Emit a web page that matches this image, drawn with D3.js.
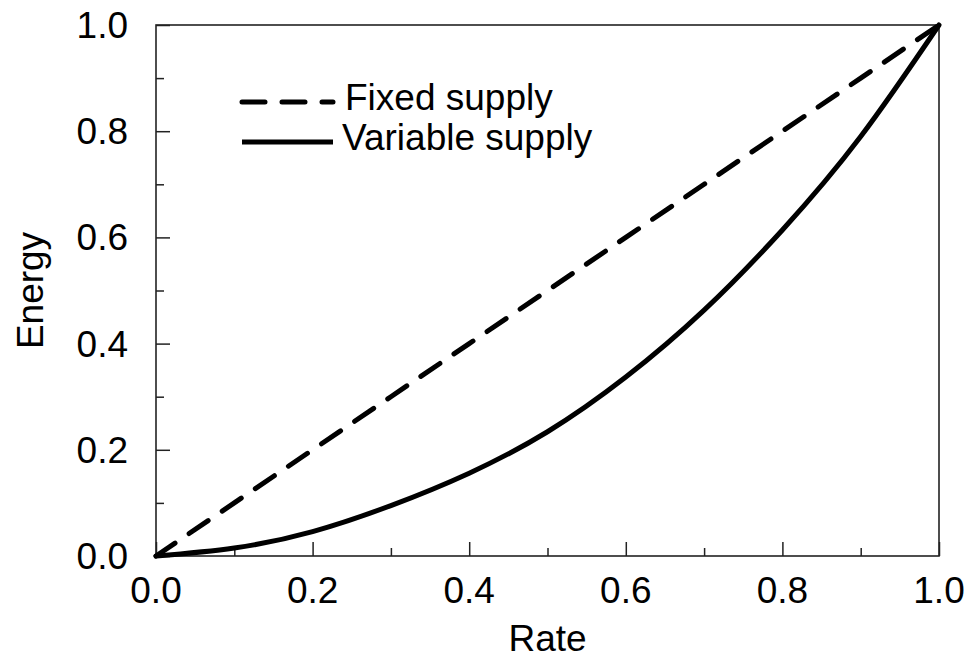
<!DOCTYPE html>
<html>
<head>
<meta charset="utf-8">
<script src="https://cdn.jsdelivr.net/npm/d3@7"></script>
<style>
  html, body { margin: 0; padding: 0; background: #fff; }
  svg { display: block; }
  text { font-family: "Liberation Sans", Arial, Helvetica, sans-serif; fill: #000; }
</style>
</head>
<body>
<svg id="chart" width="969" height="659"></svg>
<script>
// Rate values along the horizontal axis
const rate = [0, 0.1, 0.2, 0.3, 0.4, 0.5, 0.6, 0.7, 0.8, 0.9, 1.0];
// Energy for a fixed supply (straight line)
const fixedSupply = [0, 0.1, 0.2, 0.3, 0.4, 0.5, 0.6, 0.7, 0.8, 0.9, 1.0];
// Energy for a variable supply (convex curve)
const variableSupply = [0, 0.015, 0.046, 0.095, 0.156, 0.234, 0.337, 0.463, 0.614, 0.79, 1.0];

const majorTicks = [0, 0.2, 0.4, 0.6, 0.8, 1.0];
const minorTicks = [0.1, 0.3, 0.5, 0.7, 0.9];
const legendLabels = ["Fixed supply", "Variable supply"];

const svg = d3.select("#chart");
const m = { left: 156, right: 939, top: 25, bottom: 556 };

const x = d3.scaleLinear().domain([0, 1]).range([m.left, m.right]);
const y = d3.scaleLinear().domain([0, 1]).range([m.bottom, m.top]);

const fmt = d3.format(".1f");
const fontSize = 37;

// Inward major and minor ticks on the bottom and left axes
const xMajor = d3.axisBottom(x).tickValues(majorTicks).tickSize(-14).tickFormat("");
const xMinor = d3.axisBottom(x).tickValues(minorTicks).tickSize(-8).tickFormat("");
const yMajor = d3.axisLeft(y).tickValues(majorTicks).tickSize(-14).tickFormat("");
const yMinor = d3.axisLeft(y).tickValues(minorTicks).tickSize(-8).tickFormat("");

function styleAxis(g) {
  g.select(".domain").remove();
  g.selectAll(".tick line").attr("stroke", "#222").attr("stroke-width", 1.5);
}

svg.append("g").attr("transform", `translate(0,${m.bottom})`).call(xMajor).call(styleAxis);
svg.append("g").attr("transform", `translate(0,${m.bottom})`).call(xMinor).call(styleAxis);
svg.append("g").attr("transform", `translate(${m.left},0)`).call(yMajor).call(styleAxis);
svg.append("g").attr("transform", `translate(${m.left},0)`).call(yMinor).call(styleAxis);

// Frame
svg.append("rect")
  .attr("x", m.left).attr("y", m.top)
  .attr("width", m.right - m.left).attr("height", m.bottom - m.top)
  .attr("fill", "none").attr("stroke", "#222").attr("stroke-width", 1.6);

// Tick labels
svg.append("g").selectAll("text").data(majorTicks).join("text")
  .attr("x", d => x(d)).attr("y", m.bottom + 47)
  .attr("text-anchor", "middle").attr("font-size", fontSize)
  .text(fmt);

svg.append("g").selectAll("text").data(majorTicks).join("text")
  .attr("x", m.left - 28).attr("y", d => y(d) + 13)
  .attr("text-anchor", "end").attr("font-size", fontSize)
  .text(fmt);

// Axis titles
svg.append("text")
  .attr("x", (m.left + m.right) / 2).attr("y", 651)
  .attr("text-anchor", "middle").attr("font-size", fontSize)
  .text("Rate");

svg.append("text")
  .attr("transform", `translate(43,${(m.top + m.bottom) / 2}) rotate(-90)`)
  .attr("text-anchor", "middle").attr("font-size", fontSize)
  .text("Energy");

// Curves
const line = d3.line().x(d => x(d[0])).y(d => y(d[1]));
const fixedPts = rate.map((r, i) => [r, fixedSupply[i]]);
const varPts = rate.map((r, i) => [r, variableSupply[i]]);

svg.append("path")
  .attr("d", line.curve(d3.curveLinear)(fixedPts))
  .attr("fill", "none").attr("stroke", "#000").attr("stroke-width", 5)
  .attr("stroke-linecap", "round").attr("stroke-dasharray", "23,17");

svg.append("path")
  .attr("d", line.curve(d3.curveNatural)(varPts))
  .attr("fill", "none").attr("stroke", "#000").attr("stroke-width", 5)
  .attr("stroke-linecap", "round");

// Legend
const legend = svg.append("g");
const legY = [102, 142];
const dashes = ["23,17", null];
legendLabels.forEach((lab, i) => {
  legend.append("line")
    .attr("x1", 242).attr("x2", 333)
    .attr("y1", legY[i]).attr("y2", legY[i])
    .attr("stroke", "#000").attr("stroke-width", 5)
    .attr("stroke-linecap", i === 0 ? "round" : "butt")
    .attr("stroke-dasharray", dashes[i]);
  legend.append("text")
    .attr("x", i === 0 ? 345 : 342).attr("y", legY[i] + 8)
    .attr("font-size", fontSize)
    .text(lab);
});
</script>
</body>
</html>
